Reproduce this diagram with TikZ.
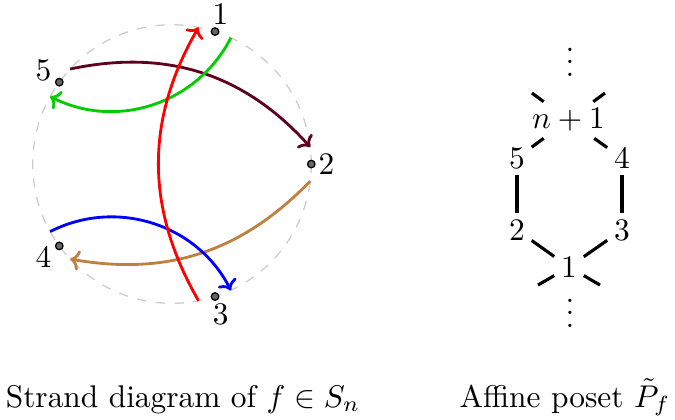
\documentclass[tikz,border=0pt]{standalone}
\usepackage{amsmath}
\usepackage{amssymb}
\usepackage{tikz}
\usetikzlibrary{arrows.meta}

\begin{document}
\begin{tikzpicture}[pt/.style={circle, draw=black, fill=black!60, inner sep=0pt, minimum size=2.4pt},
                    strand/.style={-{To[length=3pt, width=6.5pt]}, line width=0.9pt},
                    elt/.style={inner sep=2pt},
                    cover/.style={line width=1pt}]
                \useasboundingbox (-1.926,-2.856) rectangle (5.633,1.837);
                \draw[gray!40, dashed] (0,0) circle (1.56);
                \node[pt] (P1) at (72:1.56) {};
                \node[pt] (P2) at (0:1.56) {};
                \node[pt] (P3) at (-72:1.56) {};
                \node[pt] (P4) at (-144:1.56) {};
                \node[pt] (P5) at (144:1.56) {};
                \node (L1) at (72:1.76) {$1$};
                \node (L2) at (0:1.73) {$2$};
                \node (L3) at (-72:1.77) {$3$};
                \node (L4) at (-144:1.78) {$4$};
                \node (L5) at (144:1.78) {$5$};
                \coordinate (S1) at (65:1.56);
                \coordinate (E1) at (79:1.56);
                \coordinate (S2) at (-7:1.56);
                \coordinate (E2) at (7:1.56);
                \coordinate (S3) at (-79:1.56);
                \coordinate (E3) at (-65:1.56);
                \coordinate (S4) at (-151:1.56);
                \coordinate (E4) at (-137:1.56);
                \coordinate (S5) at (137:1.56);
                \coordinate (E5) at (151:1.56);
                \draw[strand, purple!50!black] (S5) to[bend left=30] (E2);
                \draw[strand, green!80!black] (S1) to[bend left=45] (E5);
                \draw[strand, brown] (S2) to[bend left=28] (E4);
                \draw[strand, blue] (S4) to[bend left=45] (E3);
                \draw[strand, red] (S3) to[bend left=30] (E1);
                % affine poset
                \node[elt] (A1) at (4.446,-1.153) {$1$};
                \node[elt] (A2) at (3.863,-0.739) {$2$};
                \node[elt] (A3) at (5.039,-0.739) {$3$};
                \node[elt] (A5) at (3.863,0.067) {$5$};
                \node[elt] (A4) at (5.039,0.067) {$4$};
                \node[elt] (An) at (4.440,0.493) {$n+1$};
                \node (Dtop) at (4.457,1.248) {$\vdots$};
                \node (Dbot) at (4.457,-1.563) {$\vdots$};
                \coordinate (C1) at (4.031,0.795);
                \coordinate (C2) at (4.849,0.795);
                \coordinate (C3) at (4.099,-1.355);
                \coordinate (C4) at (4.793,-1.355);
                \draw[cover] (A1) -- (A2);
                \draw[cover] (A1) -- (A3);
                \draw[cover] (A2) -- (A5);
                \draw[cover] (A3) -- (A4);
                \draw[cover] (A5) -- (An);
                \draw[cover] (A4) -- (An);
                \draw[cover] (An) -- (C1);
                \draw[cover] (An) -- (C2);
                \draw[cover] (A1) -- (C3);
                \draw[cover] (A1) -- (C4);
                \node[anchor=base] (cap1) at (0.123,-2.721) {Strand diagram of $f \in S_n$};
                \node[anchor=base] (cap2) at (4.401,-2.721) {Affine poset $\tilde{P}_f$};
            \end{tikzpicture}
\end{document}
